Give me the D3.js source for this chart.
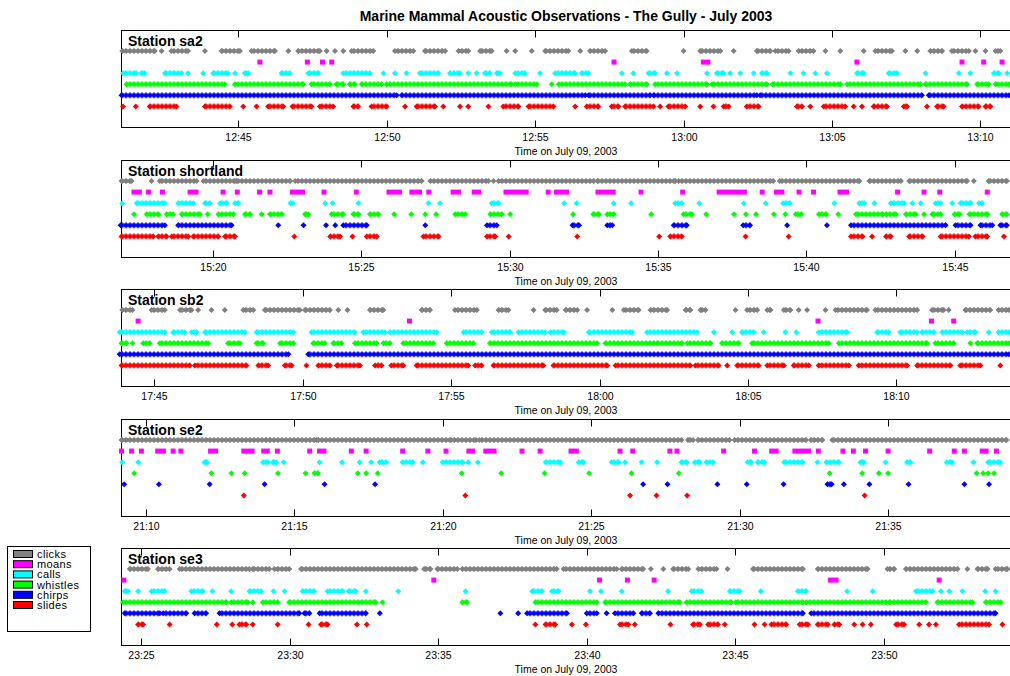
<!DOCTYPE html>
<html><head><meta charset="utf-8">
<script src="https://cdn.jsdelivr.net/npm/d3@7"></script>
<style>
html,body{margin:0;padding:0;background:#fff;}
svg{display:block;}
text{font-family:"Liberation Sans",Arial,Helvetica,sans-serif;}
</style></head><body>
<svg id="chart" width="1010" height="676"></svg>
<script>
// ---------- categories ----------
const chartTitle = "Marine Mammal Acoustic Observations - The Gully - July 2003";
const axisTitle = "Time on July 09, 2003";
const stations = ["sa2", "shortland", "sb2", "se2", "se3"];
const seriesNames = ["clicks", "moans", "calls", "whistles", "chirps", "slides"];
// hour of the day each station window belongs to, and window start (minutes past that hour); each window is 30 min
const baseHours = [12, 15, 17, 21, 23];
const windowStarts = [41.07, 16.93, 43.90, 9.18, 24.33];
const windowLength = 30;
// ---------- observations: minutes past base hour; number = single event, [a,b] = continuous run ----------
const sa2Clicks = [[41.10,42.19],42.42,[42.75,43.31],43.88,[44.44,45.06],[45.45,46.24],46.69,[47.02,47.75],47.98,48.26,48.54,[48.82,49.55],[50.28,50.90],[51.29,51.97],[52.42,52.75],[53.15,53.54],54.04,54.33,54.89,[55.34,56.12],56.52,[56.85,57.36],[58.26,58.76],60.0,[60.56,61.24],61.69,[62.47,62.92],[63.09,63.54],[63.88,64.38],64.78,65.28,66.07,[66.46,67.02],67.47,67.87,[68.31,68.71],[69.04,69.61],69.83,70.17,[70.51,70.67]];
const sa2Moans = [45.73,47.33,47.84,48.15,57.66,[60.67,60.82],65.84,69.38,70.11,70.73];
const sa2Calls = [[41.12,41.57],[41.74,41.85],[42.53,43.09],43.31,43.82,[44.16,44.66],44.89,[45.22,45.34],[46.46,46.74],[47.36,47.70],[48.54,49.44],49.89,50.28,50.67,[51.12,51.74],[52.13,52.47],52.75,53.03,[53.31,53.48],[53.71,53.82],[54.33,54.66],55.17,[55.67,56.35],[56.57,56.80],57.92,58.31,[58.82,59.04],59.44,59.78,60.79,[61.12,61.35],61.57,61.91,62.36,[62.64,62.81],63.60,64.04,64.44,64.83,[65.84,66.07],[66.91,67.19],68.15,69.27,69.66,[70.45,70.62],70.90];
const sa2Whistles = [[41.24,44.55],[44.89,47.19],[47.47,48.09],[48.31,48.54],[48.76,48.93],[49.16,49.83],[50.0,54.21],[54.33,55.06],55.56,[55.8,58.03],[58.20,58.76],[59.04,60.79],[60.96,62.81],[63.0,65.28],[65.51,67.98],[68.15,69.55],[69.89,70.28],[70.51,70.96]];
const sa2Chirps = [[41.07,50.34],[50.51,56.69],[56.80,58.88],[58.99,62.47],[62.58,68.03],[68.26,70.96]];
const sa2Slides = [41.12,41.55,[42.02,42.92],[43.88,44.72],45.17,45.62,[46.01,46.52],[46.83,47.47],[47.75,48.20],[48.88,49.04],[49.49,50.0],50.62,[51.01,51.63],51.91,52.47,52.75,53.43,[53.93,54.44],[54.78,55.62],56.35,[56.74,57.13],[57.58,57.81],[58.03,58.99],59.21,[59.49,60.06],60.56,61.01,[61.35,61.52],[62.13,62.53],[63.82,63.99],64.27,[64.72,65.45],65.73,66.01,[66.40,66.85],[67.42,67.53],68.20,[68.54,68.76],[69.38,69.94],[70.17,70.34]];

const shortlandClicks = [[16.93,17.27],17.94,[18.22,19.46],[19.69,20.75],[20.81,22.61],[22.78,27.04],[27.33,29.29],29.46,[29.63,32.84],[32.96,35.58],[35.69,38.88],[39.10,41.78],[42.12,43.18],[43.46,45.41],45.64,[46.14,46.75]];
const shortlandMoans = [[17.35,17.53],17.84,18.31,[19.24,19.44],20.35,20.83,21.58,21.93,[22.69,23.03],23.75,24.84,[25.94,26.29],[26.71,26.97],27.28,[28.10,28.28],[28.81,28.96],[29.88,30.56],31.30,[31.58,31.92],[32.98,33.49],34.43,35.83,[37.06,37.91],38.51,[38.99,39.17],39.75,40.24,[41.13,41.35],43.07,43.96,44.49,46.09];
const shortlandCalls = [16.95,[17.44,18.39],[18.84,19.35],[19.74,19.91],[20.25,20.47],[20.75,20.87],[22.62,22.70],23.79,24.04,24.91,27.27,27.66,[29.40,29.63],31.84,32.26,33.51,34.09,[35.58,35.80],36.39,37.89,38.63,[39.21,39.44],40.94,[41.78,41.95],42.29,[42.84,43.29],43.57,43.85,[44.35,44.52],44.91,[45.19,45.53],[45.81,45.92]];
const shortlandWhistles = [17.35,[17.78,18.17],[18.45,18.67],[18.96,19.57],19.83,[20.19,20.70],[21.09,21.26],21.65,[21.93,22.33],[23.11,23.22],[24.01,24.40],[24.74,24.91],[25.30,25.58],26.11,26.69,27.16,27.53,[28.17,28.51],[29.35,29.74],30.02,32.14,[32.82,33.01],[33.29,33.51],34.77,[35.86,36.14],36.62,37.56,37.96,38.30,38.90,39.29,[39.64,39.83],[40.42,40.66],41.07,[41.67,42.57],[42.68,43.01],[43.35,43.68],43.96,[44.24,44.52],[44.99,45.16],[45.49,46.10],[46.59,46.75]];
const shortlandChirps = [[16.90,18.39],[18.84,20.64],22.21,23.06,23.82,24.13,[24.40,25.19],27.16,[29.24,29.57],[32.12,32.34],[33.29,33.46],[35.53,35.97],[37.87,38.10],39.35,40.69,[41.50,44.69],[45.02,45.53],[45.86,46.26],[46.53,46.75]];
const shortlandSlides = [[16.93,18.0],[18.17,18.45],[18.62,19.18],[19.35,20.19],[20.42,20.75],22.75,[23.96,24.29],24.71,[25.19,25.53],[27.10,27.61],[29.24,29.52],29.97,32.28,35.04,[35.41,35.80],37.95,39.40,[41.50,41.89],42.21,[42.68,42.84],[43.46,43.91],[44.52,45.47],[45.69,46.09],46.65];

const sb2Clicks = [[43.93,44.27],[44.91,45.36],[45.87,46.26],46.48,46.93,47.38,[48.0,48.34],[48.73,49.91],[50.08,50.92],51.20,51.51,[52.27,52.72],[54.01,54.29],[55.13,55.87],[56.60,56.93],57.78,[58.17,58.56],[58.86,59.25],59.58,60.43,[60.82,61.32],[61.72,62.28],[62.90,63.06],[63.40,63.57],64.58,[64.97,65.31],[65.65,65.76],[66.21,66.43],66.71,66.99,67.61,[67.95,69.01],[69.29,69.80],[69.91,70.70],[71.20,71.59],71.76,[72.32,73.16],[73.44,73.78]];
const sb2Moans = [44.46,53.60,67.36,71.18,71.93];
const sb2Calls = [[43.84,45.36],[45.64,46.03],[46.26,46.43],[46.71,48.06],[48.45,49.69],[50.30,51.76],[52.04,52.78],[52.94,54.52],[55.42,56.03],[56.37,56.99],[57.27,58.17],[58.34,58.80],[59.64,61.10],[61.60,63.29],63.85,64.47,[64.80,65.19],65.53,66.26,66.63,[67.38,68.34],[69.35,69.74],[70.13,70.70],[70.86,71.26],[71.54,72.21],[72.38,72.66],73.11,[73.44,73.78]];
const sb2Whistles = [[43.90,44.07],44.27,[44.63,44.85],[45.19,46.82],[47.49,47.89],[48.45,48.67],[49.24,49.69],[50.36,50.75],[51.03,51.31],[51.76,52.49],[52.72,52.94],[53.39,54.40],[54.85,55.75],[56.31,59.92],[60.20,61.83],[61.94,62.78],[62.95,63.74],[64.13,64.69],[65.14,67.72],[68.06,71.03],[71.31,71.93],72.49,[72.72,73.78]];
const sb2Chirps = [[43.84,49.52],[50.19,73.78]];
const sb2Slides = [[43.90,46.20],[46.37,48.11],[48.51,48.84],[49.40,49.63],50.13,[50.53,50.92],[51.15,51.93],[52.44,52.66],[52.99,53.39],[53.84,55.58],[55.81,56.03],[56.43,58.11],[58.45,60.26],[60.54,63.06],[63.23,64.01],64.30,[64.64,65.36],[65.65,66.21],[66.54,67.05],[67.38,68.40],[68.73,70.36],[70.70,71.82],[72.15,72.83],73.50];

const se2Clicks = [[9.18,14.06],[14.17,15.74],[15.80,20.28],[20.39,21.12],[21.23,28.04],[28.26,28.43],[28.60,29.66],[29.83,32.23],[32.40,32.79],[33.12,38.99]];
const se2Moans = [9.18,9.52,9.85,[10.40,10.59],10.92,11.18,[12.18,12.35],[13.30,13.58],[13.97,14.09],14.43,15.52,[15.85,16.00],16.92,17.42,18.65,19.50,20.11,[20.88,21.01],[21.45,21.73],22.67,23.28,[24.32,24.50],25.97,26.40,27.65,27.89,29.46,30.50,[31.08,31.23],[31.86,32.32],32.65,33.48,33.83,34.24,35.0,36.40,37.23,37.57,[38.17,38.30],38.65];
const se2Calls = [9.20,9.74,[11.98,12.06],[13.95,14.11],[14.28,14.39],14.64,15.85,16.61,17.20,17.59,[17.87,18.09],[18.65,18.99],19.33,[20.0,20.67],20.86,21.18,[23.47,23.96],[24.58,24.74],[25.69,25.92],26.14,26.70,27.22,[28.04,28.21],[28.49,28.65],[28.88,29.11],[30.27,30.39],[30.61,30.83],[31.50,32.12],32.62,[32.92,33.35],[34.07,34.18],34.91,[35.64,35.75],[36.98,37.15],37.87,[38.37,38.77]];
const se2Whistles = [9.61,12.21,12.88,13.33,14.45,15.38,[15.68,15.80],17.14,17.42,17.81,20.64,21.97,23.43,24.93,26.36,27.95,33.03,34.13,34.69,35.0,37.98,38.20,38.37,38.57];
const se2Chirps = [9.27,10.44,12.15,14.0,16.02,17.72,26.75,27.57,29.25,30.24,31.48,[32.96,33.10],33.51,34.37,35.69,37.57,38.40];
const se2Slides = [13.30,20.76,26.31,27.20,28.23,34.21];

const se3Clicks = [[24.61,25.22],[25.56,25.95],[26.29,28.64],[28.75,29.31],[29.48,29.98],[30.38,34.24],[34.52,34.74],[34.97,35.64],[35.81,38.99],[39.22,41.01],[41.18,41.90],42.16,42.58,[42.91,43.42],[43.76,44.37],44.74,[45.60,47.28],[47.78,49.46],[50.13,50.36],[50.75,52.49],52.82,[53.16,53.50],[53.77,54.17]];
const se3Moans = [24.41,34.85,40.43,41.37,42.27,[48.21,48.40],51.87];
const se3Calls = [[24.44,24.55],24.89,[25.34,25.78],[26.68,27.07],27.39,28.02,[28.64,29.03],29.45,29.82,[30.43,30.82],[31.27,31.78],[31.98,32.22],32.56,33.65,35.92,[38.16,38.49],[38.83,39.05],40.11,40.48,41.18,42.74,[43.53,43.86],[44.82,45.15],45.86,[47.11,47.39],48.77,49.63,[51.09,51.65],51.93,52.21,52.65,53.42,53.77];
const se3Whistles = [[24.38,27.86],[28.02,28.58],28.75,[29.09,29.59],[29.98,32.89],33.12,[35.81,35.97],[38.27,40.34],[40.62,43.13],[43.36,44.87],[45.02,47.28],[47.39,50.08],[50.19,51.42],[51.81,52.99],[53.44,53.94]];
const se3Chirps = [[24.44,25.62],[25.73,26.51],[26.79,27.18],[27.63,30.32],[30.49,30.66],[31.0,32.56],33.03,37.09,37.69,[37.99,39.33],[40.0,40.34],40.67,[40.95,41.57],[41.85,42.13],[42.41,47.28],[47.56,53.77]];
const se3Slides = [[24.89,25.06],25.95,27.54,28.06,[28.30,28.53],28.75,29.59,30.63,[31.05,31.27],32.26,32.59,38.27,[38.61,38.94],39.50,39.97,[41.12,41.40],41.62,42.82,[43.58,43.81],[44.09,44.42],44.65,45.65,45.99,[46.22,46.72],[47.17,47.45],[47.78,48.12],[48.34,48.51],49.01,49.29,49.57,[50.42,50.69],51.20,51.53,51.76,[52.54,53.55],54.0];

const observations = [
  [sa2Clicks, sa2Moans, sa2Calls, sa2Whistles, sa2Chirps, sa2Slides],
  [shortlandClicks, shortlandMoans, shortlandCalls, shortlandWhistles, shortlandChirps, shortlandSlides],
  [sb2Clicks, sb2Moans, sb2Calls, sb2Whistles, sb2Chirps, sb2Slides],
  [se2Clicks, se2Moans, se2Calls, se2Whistles, se2Chirps, se2Slides],
  [se3Clicks, se3Moans, se3Calls, se3Whistles, se3Chirps, se3Slides]
];

// ---------- styles / layout ----------
const colors = {clicks:"#808080", moans:"#ff00ff", calls:"#00ffff", whistles:"#00ff00", chirps:"#0000ff", slides:"#ff0000"};
const plotLeft = 121.5, plotRight = 1012.2;
const panelTops = [30.5, 160.5, 289.5, 419.5, 548.5];
const panelH = 97;

const svg = d3.select("#chart");
svg.append("rect").attr("width",1010).attr("height",676).attr("fill","#fff");
const defs = svg.append("defs");

svg.append("text").attr("x",566).attr("y",20.5).attr("text-anchor","middle")
  .attr("font-size","14px").attr("font-weight","bold").attr("fill","#000").text(chartTitle);

const toDate = (h, m) => new Date(2003, 6, 9, h, 0, 0, Math.round(m * 60000));
const fmt = d3.timeFormat("%H:%M");
const yRow = d3.scalePoint().domain(seriesNames).range([20.5, 75.9]);

// chain-of-diamonds texture used to fill continuous runs
seriesNames.filter(s => s !== "moans").forEach(s => {
  const cy = yRow(s);
  const p = defs.append("pattern").attr("id", "chain-" + s)
    .attr("patternUnits", "userSpaceOnUse").attr("x", 0).attr("y", cy - 3)
    .attr("width", 4).attr("height", 6);
  p.append("polygon").attr("points", "0,1.4 2,0 4,1.4 4,4.6 2,6 0,4.6").attr("fill", colors[s]);
});

const diamond = (xc, cy) => `M${xc-3},${cy}L${xc},${cy-3}L${xc+3},${cy}L${xc},${cy+3}Z`;

stations.forEach((st, i) => {
  const top = panelTops[i];
  const h0 = baseHours[i];
  const x = d3.scaleTime()
    .domain([toDate(h0, windowStarts[i]), toDate(h0, windowStarts[i] + windowLength)])
    .range([plotLeft, plotRight]);
  const g = svg.append("g").attr("transform", `translate(0,${top})`);

  // frame
  g.append("rect").attr("x", plotLeft).attr("y", 0).attr("width", plotRight - plotLeft).attr("height", panelH)
    .attr("fill", "#fff").attr("stroke", "#000").attr("stroke-width", 1);

  // axes
  const tickVals = x.ticks(d3.timeMinute.every(5));
  const bottom = g.append("g").attr("transform", `translate(0,${panelH})`)
    .call(d3.axisBottom(x).tickValues(tickVals).tickFormat(fmt).tickSize(-7).tickPadding(6));
  const topAx = g.append("g")
    .call(d3.axisTop(x).tickValues(tickVals).tickFormat("").tickSize(-7));
  [bottom, topAx].forEach(a => {
    a.select(".domain").remove();
    a.selectAll(".tick").attr("transform", d => `translate(${Math.round(x(d)) + 0.5},0)`);
    a.selectAll(".tick line").attr("stroke", "#000");
  });
  bottom.selectAll(".tick text").attr("font-size", "10.5px").attr("fill", "#000")
    .attr("font-family", '"Liberation Sans",Arial,sans-serif');

  g.append("text").attr("x", 566).attr("y", panelH + 27).attr("text-anchor", "middle")
    .attr("font-size", "10.5px").attr("fill", "#000").text(axisTitle);

  // series
  seriesNames.forEach((s, k) => {
    const cy = yRow(s);
    const items = observations[i][k].map(v => Array.isArray(v) ? v : [v, v]);
    const sg = g.append("g");
    if (s === "moans") {
      sg.attr("fill", colors[s]).selectAll("rect").data(items).join("rect")
        .attr("x", d => x(toDate(h0, d[0])) - 2.5)
        .attr("width", d => x(toDate(h0, d[1])) - x(toDate(h0, d[0])) + 5)
        .attr("y", cy - 2.5).attr("height", 5);
    } else {
      const runs = items.filter(d => x(toDate(h0, d[1])) - x(toDate(h0, d[0])) >= 2);
      sg.selectAll("rect.run").data(runs).join("rect").attr("class", "run")
        .attr("x", d => x(toDate(h0, d[0])))
        .attr("width", d => x(toDate(h0, d[1])) - x(toDate(h0, d[0])))
        .attr("y", cy - 3).attr("height", 6)
        .attr("fill", `url(#chain-${s})`);
      const pts = [];
      items.forEach(d => {
        const a = x(toDate(h0, d[0])), b = x(toDate(h0, d[1]));
        if (b - a < 2) pts.push((a + b) / 2); else { pts.push(a); pts.push(b); }
      });
      sg.selectAll("path").data(pts).join("path")
        .attr("d", xc => diamond(xc, cy)).attr("fill", colors[s]);
    }
  });

  g.append("text").attr("x", 128).attr("y", 15.5).attr("font-size", "14px").attr("font-weight", "bold")
    .attr("fill", "#000").text("Station " + st);
});

// legend
const lg = svg.append("g");
lg.append("rect").attr("x", 7.5).attr("y", 546.5).attr("width", 83).attr("height", 85)
  .attr("fill", "#fff").attr("stroke", "#000");
seriesNames.forEach((s, k) => {
  const yy = 550.5 + k * 10.2;
  lg.append("rect").attr("x", 13.5).attr("y", yy).attr("width", 19).attr("height", 7)
    .attr("fill", colors[s]).attr("stroke", "#000");
  lg.append("text").attr("x", 37).attr("y", yy + 7.5).attr("font-size", "11px")
    .attr("letter-spacing", "0.4px").attr("fill", "#000").text(s);
});
</script>
</body></html>
